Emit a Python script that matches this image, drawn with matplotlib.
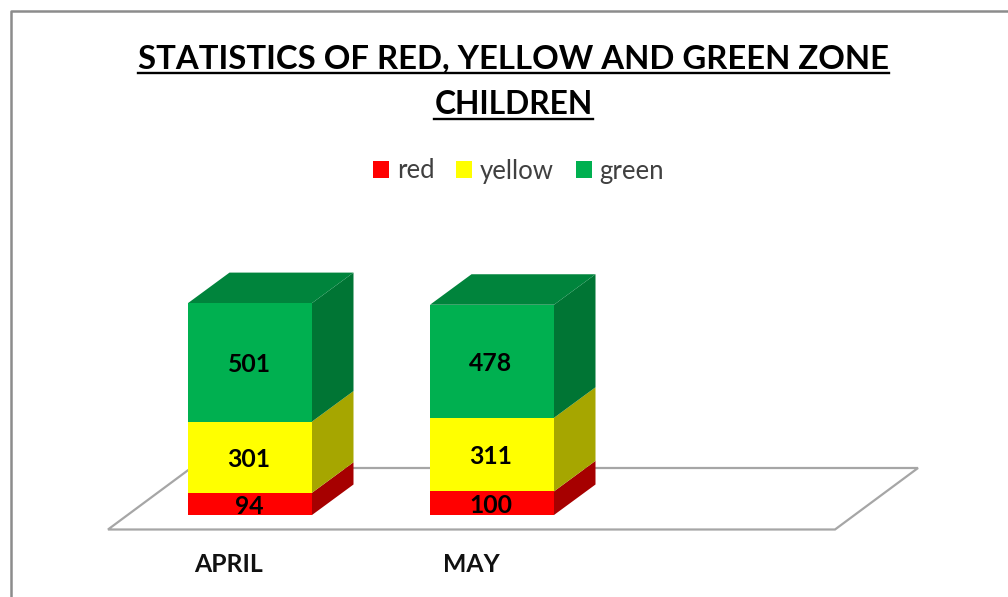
import matplotlib
matplotlib.use("Agg")
import matplotlib.pyplot as plt
from matplotlib.patches import Polygon, Patch
from matplotlib.lines import Line2D
import numpy as np

categories = ["APRIL", "MAY"]
series_names = ["red", "yellow", "green"]
red_values = [94, 100]
yellow_values = [301, 311]
green_values = [501, 478]
title_lines = ["STATISTICS OF RED, YELLOW AND GREEN ZONE", "CHILDREN"]

front = {"red": "#FF0000", "yellow": "#FFFF00", "green": "#00B050"}
side = {"red": "#A60000", "yellow": "#A6A600", "green": "#007534"}
top = "#00843C"

W, H = 1008, 597
plt.rcParams["font.family"] = ["Lato", "DejaVu Sans"]
fig = plt.figure(figsize=(W / 100, H / 100), dpi=100)
ax = fig.add_axes([0, 0, 1, 1])

# pixel layout: category 0 centre, spacing, baseline, pixels per unit
CX, SP, BASE, PPU = 250.0, 242.0, 515.0, 0.2365
ax.set_xlim((0 - CX) / SP, (W - CX) / SP)
ax.set_ylim((BASE - H) / PPU, BASE / PPU)
ax.axis("off")

def dx(px):
    return px / SP

def dy(px):
    return px / PPU

x = np.arange(len(categories))
bw = dx(124)
ddx, ddy = dx(41.5), dy(30.5)

# floor
fl, fr = dx(108 - CX), dx(835 - CX)
fb, ft = dy(BASE - 529.5), dy(BASE - 468)
fs = dx(83)
ax.add_patch(Polygon([(fl, fb), (fr, fb), (fr + fs, ft), (fl + fs, ft)], closed=True,
                     fc="white", ec="#A6A6A6", lw=1.6, zorder=1))

bottom = np.zeros(len(categories))
series = {"red": red_values, "yellow": yellow_values, "green": green_values}
for name in series_names:
    vals = np.array(series[name], dtype=float)
    ax.bar(x, vals, bw, bottom=bottom, color=front[name], lw=0, zorder=3)
    for xi, b, v in zip(x, bottom, vals):
        xr = xi + bw / 2
        ax.add_patch(Polygon([(xr, b), (xr + ddx, b + ddy), (xr + ddx, b + v + ddy), (xr, b + v)],
                             closed=True, fc=side[name], lw=0, zorder=2.5))
        ax.text(xi - dx(1), b + v / 2 - dy(2.2), f"{int(v)}", ha="center", va="center", fontsize=17.8,
                fontweight="bold", color="black", zorder=5)
    bottom = bottom + vals

for xi, t in zip(x, bottom):
    xl, xr = xi - bw / 2, xi + bw / 2
    ax.add_patch(Polygon([(xl, t), (xr, t), (xr + ddx, t + ddy), (xl + ddx, t + ddy)],
                         closed=True, fc=top, lw=0, zorder=2.5))

for xi, c in zip(x, categories):
    ax.text(xi - dx(21), dy(BASE - 565), c, ha="center", va="center", fontsize=17.8,
            fontweight="bold", color="#111111")

# title
fig.canvas.draw()
r = fig.canvas.get_renderer()
for line, py, fs_title in zip(title_lines, [58.5, 104.5], [23.7, 22.9]):
    t = fig.text(513.5 / W, 1 - py / H, line, ha="center", va="center", fontsize=fs_title,
                 fontweight="bold", color="black")
    bb = t.get_window_extent(r)
    fig.add_artist(Line2D([bb.x0 / W, bb.x1 / W], [1 - (py + 14) / H] * 2, color="black", lw=1.7))

# legend
handles = [Patch(fc=front[n], lw=0) for n in series_names]
ax.legend(handles, series_names, ncol=3, loc="center", bbox_to_anchor=(518.5 / W, 1 - 171 / H),
          bbox_transform=fig.transFigure, frameon=False, fontsize=18.5, handlelength=0.62,
          handleheight=0.62, handletextpad=0.3, columnspacing=0.85, labelcolor="#404040")

# chart-area frame
fig.add_artist(Line2D([11 / W, 11 / W, 1], [0, 1 - 10.5 / H, 1 - 10.5 / H], color="#8C8C8C", lw=1.8))

fig.savefig("out.png", dpi=100)
